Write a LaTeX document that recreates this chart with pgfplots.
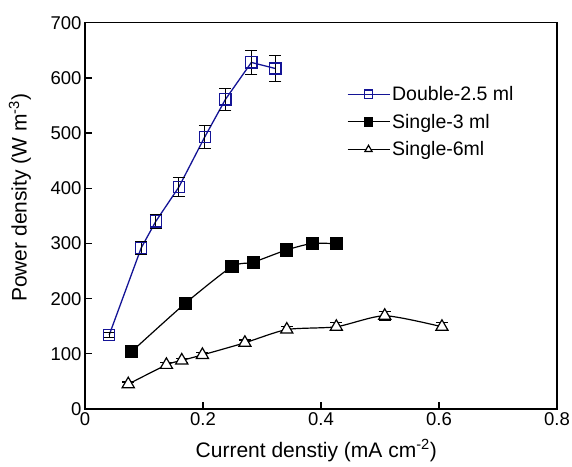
\documentclass[border=0pt]{standalone}
\usepackage{fontspec}
\setmainfont{Liberation Sans}
\usepackage{pgfplots}
\pgfplotsset{compat=1.18}
\definecolor{navy}{RGB}{20,20,150}
\begin{document}
\begin{tikzpicture}
\useasboundingbox (-85pt,-57pt) rectangle (487pt,409pt);
\begin{axis}[
  at={(0,0)}, anchor=south west,
  scale only axis, width=472pt, height=386.3pt,
  xmin=0, xmax=0.8, ymin=0, ymax=700,
  xtick={0,0.2,0.4,0.6,0.8},
  xticklabels={0,0.2,0.4,0.6,0.8},
  ytick={0,100,...,700},
  xtick pos=bottom, ytick pos=left,
  tick align=inside,
  major tick length=7pt,
  axis line style={line width=1.5pt},
  every tick/.style={line width=1.3pt, black},
  /pgf/number format/assume math mode=true,
  tick label style={font=\fontsize{18.5}{22}\selectfont},
  label style={font=\fontsize{21}{25}\selectfont},
  xlabel={Current denstiy (mA cm\textsuperscript{-2})},
  ylabel={Power density (W m\textsuperscript{-3})},
  xlabel style={at={(rel axis cs:0.49,0)}, anchor=north, yshift=-27pt},
  ylabel style={at={(rel axis cs:-0.138,0.547)}, anchor=center},
  legend style={at={(rel axis cs:0.548,0.846)}, anchor=north west, draw=none, fill=none,
    font=\fontsize{19.5}{22}\selectfont, row sep=8pt, cells={anchor=west}},
  legend image code/.code={\draw[mark repeat=2,mark phase=2,#1,mark size=4.2pt] plot coordinates {(0pt,0pt) (21pt,0pt) (42pt,0pt)};},
  clip=false,
]
\addplot[navy, line width=1.3pt, mark=square, mark size=5.6pt, mark options={line width=1.3pt, fill=white, solid},
  error bars/.cd, y dir=both, y explicit, error bar style={black, line width=1.1pt}, error mark options={rotate=90, mark size=6pt, black, line width=1.1pt}]
  coordinates {
  (0.041,134) +- (0,5)
  (0.0953,292) +- (0,12)
  (0.120,340) +- (0,13)
  (0.159,402) +- (0,17)
  (0.203,493) +- (0,21)
  (0.238,561) +- (0,20)
  (0.282,628) +- (0,22)
  (0.3227,617) +- (0,23)
  };
\addlegendentry{Double-2.5 ml}
\addplot[black, line width=1.2pt, smooth, tension=0.4, mark=square*, mark size=6pt, mark options={fill=black, solid},
  error bars/.cd, y dir=both, y explicit, error bar style={black, line width=1.1pt}, error mark options={rotate=90, mark size=6pt, black, line width=1.1pt}]
  coordinates {
  (0.079,104) +- (0,5)
  (0.170,191.5) +- (0,6)
  (0.249,258) +- (0,6)
  (0.285,266) +- (0,6)
  (0.341,288) +- (0,6)
  (0.385,300) +- (0,7)
  (0.426,299.5) +- (0,7)
  };
\addlegendentry{Single-3 ml}
\addplot[black, line width=1.2pt, smooth, tension=0.4, mark=triangle*, mark size=7pt, mark options={fill=white, line width=1.2pt, solid},
  error bars/.cd, y dir=both, y explicit, error bar style={black, line width=1.1pt}, error mark options={rotate=90, mark size=6pt, black, line width=1.1pt}]
  coordinates {
  (0.0733,45) +- (0,4)
  (0.138,80) +- (0,4)
  (0.164,88) +- (0,4)
  (0.199,98) +- (0,4)
  (0.271,120) +- (0,5)
  (0.342,144) +- (0,6)
  (0.426,149) +- (0,7)
  (0.508,169) +- (0,8)
  (0.605,149) +- (0,7)
  };
\addlegendentry{Single-6ml}
\end{axis}
\end{tikzpicture}
\end{document}
